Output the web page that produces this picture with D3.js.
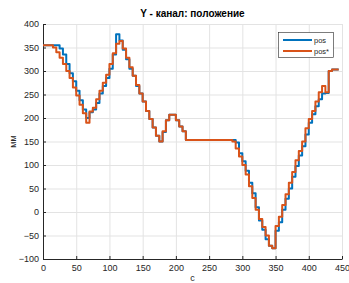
<!DOCTYPE html>
<html>
<head>
<meta charset="utf-8">
<script src="https://cdn.jsdelivr.net/npm/d3@7"></script>
<style>
  body { margin: 0; background: #fff; }
  text { font-family: "Liberation Sans", Arial, sans-serif; }
</style>
</head>
<body>
<svg id="chart" width="349" height="283"></svg>
<script>
// sample times (s), one every 5 s
var times = d3.range(0, 450, 5);

// pos (blue)
var posValues = [
	355, 355, 355, 355, 355, 348, 335, 315, 295, 278,
	258, 238, 218, 200, 212, 218, 232, 252, 268, 285,
	305, 335, 378, 365, 345, 325, 305, 290, 268, 252,
	235, 215, 198, 180, 162, 150, 170, 195, 207, 207,
	195, 182, 172, 153, 153, 153, 153, 153, 153, 153,
	153, 153, 153, 153, 153, 153, 153, 153, 148, 125,
	108, 88, 62, 40, 10, -18, -38, -58, -72, -77,
	-40, -22, 5, 28, 50, 75, 98, 120, 140, 165,
	190, 208, 225, 240, 252, 253, 300, 303, 303, 303
];

// pos* (orange)
var posRefValues = [
	355, 355, 355, 350, 340, 328, 315, 300, 285, 265,
	248, 228, 210, 190, 214, 222, 240, 258, 275, 292,
	315, 338, 358, 364, 348, 328, 308, 290, 270, 252,
	235, 215, 198, 180, 162, 150, 172, 195, 207, 207,
	195, 182, 172, 153, 153, 153, 153, 153, 153, 153,
	153, 153, 153, 153, 153, 153, 153, 150, 135, 118,
	100, 80, 55, 30, 5, -15, -32, -50, -72, -77,
	-30, -10, 15, 38, 62, 85, 110, 130, 150, 178,
	198, 215, 235, 255, 268, 255, 300, 303, 303, 303
];

var xTicks = d3.range(0, 451, 50);
var yTicks = d3.range(-100, 401, 50);
var seriesNames = ["pos", "pos*"];
var seriesColors = ["#0072BD", "#D95319"];

var svg = d3.select("#chart");
var margin = { left: 43, right: 7, top: 24, bottom: 24 };
var w = 349, h = 283;
var width = w - margin.left - margin.right;
var height = h - margin.top - margin.bottom;

var xScale = d3.scaleLinear().domain([0, 450]).range([0, width]);
var yScale = d3.scaleLinear().domain([-100, 400]).range([height, 0]);

var body = svg.append("g")
	.attr("transform", "translate(" + margin.left + "," + margin.top + ")");

// grid
body.append("g").selectAll("line.gx")
	.data(xTicks).enter().append("line")
	.attr("x1", function(d) { return xScale(d) + 0.5; })
	.attr("x2", function(d) { return xScale(d) + 0.5; })
	.attr("y1", 0).attr("y2", height)
	.attr("stroke", "#e3e3e3");
body.append("g").selectAll("line.gy")
	.data(yTicks).enter().append("line")
	.attr("y1", function(d) { return yScale(d) + 0.5; })
	.attr("y2", function(d) { return yScale(d) + 0.5; })
	.attr("x1", 0).attr("x2", width)
	.attr("stroke", "#e3e3e3");

// axes
var xAxis = body.append("g")
	.attr("transform", "translate(0," + height + ")")
	.call(d3.axisBottom(xScale).tickValues(xTicks).tickSizeInner(-3).tickSizeOuter(0).tickPadding(6));
var yAxis = body.append("g")
	.call(d3.axisLeft(yScale).tickValues(yTicks).tickSizeInner(-3).tickSizeOuter(0).tickPadding(4));
[xAxis, yAxis].forEach(function(a) {
	a.select(".domain").attr("stroke", "#262626");
	a.selectAll(".tick line").attr("stroke", "#262626");
	a.selectAll(".tick text")
		.attr("fill", "#262626")
		.style("font-family", "'Liberation Sans', Arial, sans-serif")
		.style("font-size", "9px");
});

// series: staircase, like the sampled signal in the picture
var line = d3.line()
	.x(function(d) { return xScale(d[0]); })
	.y(function(d) { return yScale(d[1]); })
	.curve(d3.curveStepAfter);

[posValues, posRefValues].forEach(function(vals, i) {
	var data = times.map(function(t, k) { return [t, vals[k]]; });
	body.append("path")
		.datum(data)
		.attr("fill", "none")
		.attr("stroke", seriesColors[i])
		.attr("stroke-width", 2)
		.attr("stroke-linejoin", "round")
		.attr("d", line);
});

// title and labels
svg.append("text")
	.text("Y - канал: положение")
	.attr("x", margin.left + width / 2).attr("y", 17)
	.attr("text-anchor", "middle")
	.attr("font-weight", "bold")
	.attr("font-size", "10px")
	.attr("fill", "#000");
svg.append("text")
	.text("с")
	.attr("x", margin.left + width / 2).attr("y", 281)
	.attr("text-anchor", "middle")
	.attr("font-size", "9px")
	.attr("fill", "#262626");
svg.append("text")
	.text("мм")
	.attr("transform", "translate(16," + (margin.top + height / 2) + ") rotate(-90)")
	.attr("text-anchor", "middle")
	.attr("font-size", "9px")
	.attr("fill", "#262626");

// legend
var legend = svg.append("g").attr("transform", "translate(278,32)");
legend.append("rect")
	.attr("x", 0.5).attr("y", 0.5)
	.attr("width", 55).attr("height", 25)
	.attr("fill", "#fff")
	.attr("stroke", "#262626")
	.attr("stroke-width", 0.6);
seriesNames.forEach(function(name, i) {
	var yy = 8 + i * 11;
	legend.append("line")
		.attr("x1", 5).attr("x2", 34)
		.attr("y1", yy).attr("y2", yy)
		.attr("stroke", seriesColors[i])
		.attr("stroke-width", 2);
	legend.append("text")
		.text(name)
		.attr("x", 36).attr("y", yy + 3)
		.attr("font-size", "7.5px")
		.attr("fill", "#262626");
});
</script>
</body>
</html>
